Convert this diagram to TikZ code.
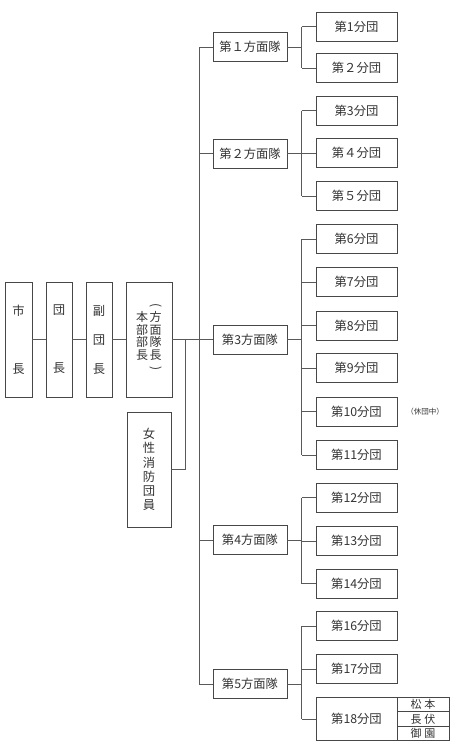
\documentclass[tikz,border=0pt]{standalone}
\usepackage{fontspec}
\setmainfont{Noto Sans CJK JP}
\newcommand\vparL{\rotatebox[origin=c]{-90}{(}}
\newcommand\vparR{\rotatebox[origin=c]{-90}{)}}
\begin{document}
\begin{tikzpicture}[x=1pt,y=-1pt,
  bx/.style={draw=black!72, line width=0.8pt, inner sep=0pt, text=black!80, font=\fontsize{12.3}{14}\selectfont},
  bun/.style={bx, minimum width=81pt, minimum height=29pt},
  hou/.style={bx, minimum width=74pt, minimum height=29pt},
  tall/.style={bx, minimum height=115pt, align=center},
  sub/.style={bx, minimum width=52pt, minimum height=14.33pt, font=\fontsize{11}{12}\selectfont},
  ln/.style={draw=black!65, line width=0.75pt},
  vt/.style={inner sep=0pt, align=center, text=black!80, font=\fontsize{12}{12.5}\selectfont}
]
\useasboundingbox (0,0) rectangle (463,750);
\fill[white] (0,0) rectangle (463,750);

% left chain
\node[tall, minimum width=27pt] (shi) at (18.5,339.5) {市\\[44pt]長};
\node[tall, minimum width=26pt] (dan) at (59,339.5) {団\\[44pt]長};
\node[tall, minimum width=26pt] (fuku) at (99,339.5) {副\\[15pt]団\\[15pt]長};
\node[tall, minimum width=46pt] (honbu) at (149,339.5) {};
\node[vt] (honbuR) at (155.5,336) {\vphantom{方}\vparL\\方\\面\\隊\\長\\\vparR\vphantom{方}};
\node[vt] (honbuL) at (142,336) {本\\部\\部\\長};
\node[tall, minimum width=44pt, font=\fontsize{12.3}{14.2}\selectfont] (josei) at (149,469.5) {女\\性\\消\\防\\団\\員};

% homentai
\node[hou] (h1) at (250,47) {第１方面隊};
\node[hou] (h2) at (250,153.5) {第２方面隊};
\node[hou] (h3) at (250,339.5) {第3方面隊};
\node[hou] (h4) at (250,540) {第4方面隊};
\node[hou] (h5) at (250,684) {第5方面隊};

% bundan
\node[bun] (b1) at (356.5,26.5) {第1分団};
\node[bun] (b2) at (356.5,68) {第２分団};
\node[bun] (b3) at (356.5,110.5) {第3分団};
\node[bun] (b4) at (356.5,153) {第４分団};
\node[bun] (b5) at (356.5,196) {第５分団};
\node[bun] (b6) at (356.5,239) {第6分団};
\node[bun] (b7) at (356.5,282) {第7分団};
\node[bun] (b8) at (356.5,325.5) {第8分団};
\node[bun] (b9) at (356.5,368) {第9分団};
\node[bun] (b10) at (356.5,411.5) {第10分団};
\node[bun] (b11) at (356.5,455) {第11分団};
\node[bun] (b12) at (356.5,497.5) {第12分団};
\node[bun] (b13) at (356.5,541) {第13分団};
\node[bun] (b14) at (356.5,583.5) {第14分団};
\node[bun] (b16) at (356.5,626) {第16分団};
\node[bun] (b17) at (356.5,669) {第17分団};
\node[bun, minimum height=43pt] (b18) at (356.5,719) {第18分団};
\node[sub] (s1) at (423,704.67) {松\hspace{3pt}本};
\node[sub] (s2) at (423,719) {長\hspace{3pt}伏};
\node[sub] (s3) at (423,733.33) {御\hspace{3pt}園};

\node[inner sep=0pt, text=black!80, font=\fontsize{7.5}{8}\selectfont] (kyu) at (425,411.5) {（休団中）};

% connectors
\coordinate (m) at (199,0);
\coordinate (j) at (185,0);
\coordinate (g) at (301.5,0);

\draw[ln] (shi.east) -- (dan.west);
\draw[ln] (dan.east) -- (fuku.west);
\draw[ln] (fuku.east) -- (honbu.west);
\draw[ln] (honbu.east) -- (honbu.east -| m);
\draw[ln] (josei.east) -- (josei.east -| j) -- (honbu.east -| j);
\draw[ln] (h1.west -| m) -- (h5.west -| m);
\foreach \h in {h1,h2,h3,h4,h5}{
  \draw[ln] (\h.west) -- (\h.west -| m);
  \draw[ln] (\h.east) -- (\h.east -| g);
}
\foreach \b in {b1,b2,b3,b4,b5,b6,b7,b8,b9,b10,b11,b12,b13,b14,b16,b17,b18}{
  \draw[ln] (\b.west) -- (\b.west -| g);
}
\draw[ln] (b1.west -| g) -- (b2.west -| g);
\draw[ln] (b3.west -| g) -- (b5.west -| g);
\draw[ln] (b6.west -| g) -- (b11.west -| g);
\draw[ln] (b12.west -| g) -- (b14.west -| g);
\draw[ln] (b16.west -| g) -- (b18.west -| g);
\end{tikzpicture}
\end{document}
